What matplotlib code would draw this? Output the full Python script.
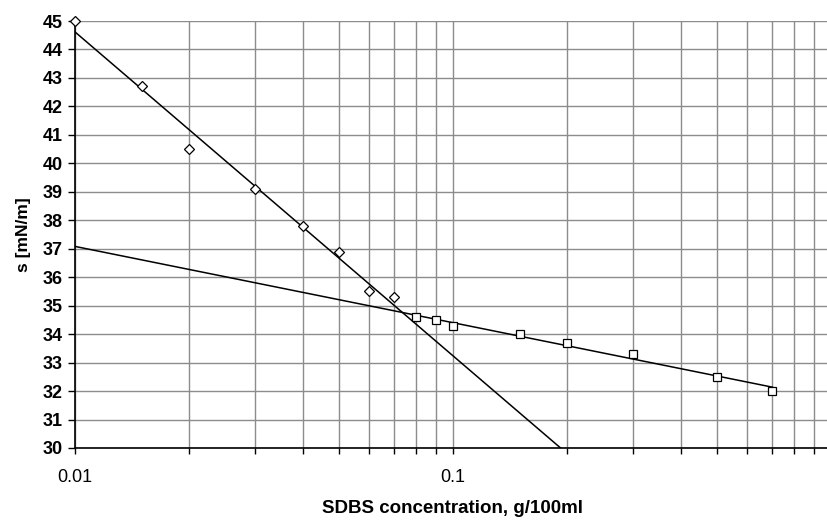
import numpy as np
import matplotlib.pyplot as plt
from matplotlib.ticker import LogLocator, FixedLocator, NullFormatter, FixedFormatter

plt.rcParams['font.family'] = ['Liberation Sans', 'DejaVu Sans']

# below-CMC points (diamonds)
conc_low = [0.01, 0.015, 0.02, 0.03, 0.04, 0.05, 0.06, 0.07]
sigma_low = [45.0, 42.7, 40.5, 39.1, 37.8, 36.9, 35.5, 35.3]

# above-CMC points (squares)
conc_high = [0.08, 0.09, 0.1, 0.15, 0.2, 0.3, 0.5, 0.7]
sigma_high = [34.6, 34.5, 34.3, 34.0, 33.7, 33.3, 32.5, 32.0]

x_ticks = [0.01, 0.1]
x_ticklabels = ["0.01", "0.1"]

fig = plt.figure(figsize=(8.28, 5.2), dpi=100)
ax = fig.add_axes([75 / 828, 72 / 520, 756 / 828, 427 / 520])

# log trendlines, fitted like Excel does
p_low = np.polyfit(np.log10(conc_low), sigma_low, 1)
p_high = np.polyfit(np.log10(conc_high), sigma_high, 1)
xs = np.logspace(-2, 0, 50)
ax.plot(xs, np.polyval(p_low, np.log10(xs)), color="black", lw=1.1, zorder=3)
xs2 = np.logspace(-2, np.log10(conc_high[-1]), 50)
ax.plot(xs2, np.polyval(p_high, np.log10(xs2)), color="black", lw=1.1, zorder=3)

ax.plot(conc_low, sigma_low, "D", ms=5.5, mfc="white", mec="black", mew=0.9,
        zorder=4, clip_on=False)
ax.plot(conc_high, sigma_high, "s", ms=6.2, mfc="white", mec="black", mew=0.9,
        zorder=4, clip_on=False)

ax.set_xscale("log")
ax.set_xlim(0.01, 1)
ax.set_ylim(30, 45)
ax.set_yticks(range(30, 46))
ax.xaxis.set_major_locator(FixedLocator(x_ticks))
ax.xaxis.set_major_formatter(FixedFormatter(x_ticklabels))
ax.xaxis.set_minor_locator(LogLocator(base=10, subs=np.arange(2, 10)))
ax.xaxis.set_minor_formatter(NullFormatter())

ax.grid(True, which="both", color="#8c8c8c", lw=1.0)
ax.set_axisbelow(True)

for s in ["top", "right"]:
    ax.spines[s].set_visible(False)
for s in ["left", "bottom"]:
    ax.spines[s].set_linewidth(1.2)

ax.tick_params(axis="y", length=5, width=1, labelsize=13, pad=4)
ax.tick_params(axis="x", which="both", length=4, width=1, labelsize=13, pad=11)
for lab in ax.get_yticklabels():
    lab.set_fontweight("bold")

ax.set_ylabel("s [mN/m]", fontsize=12.5, fontweight="bold", labelpad=8)
ax.set_xlabel("SDBS concentration, g/100ml", fontsize=13.5, fontweight="bold",
              labelpad=10)

fig.savefig("out.png", dpi=100)
